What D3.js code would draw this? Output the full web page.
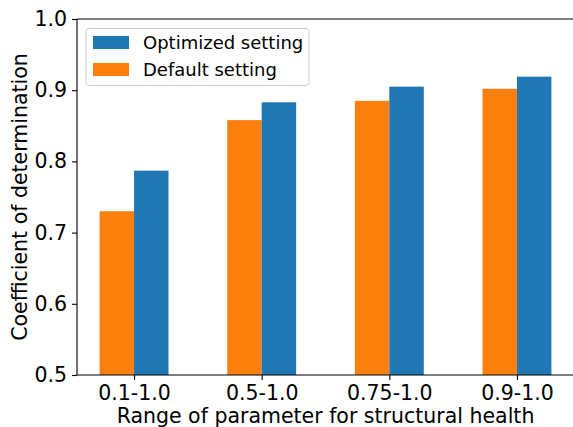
<!DOCTYPE html>
<html><head><meta charset="utf-8">
<script src="https://cdn.jsdelivr.net/npm/d3@7"></script>
<style>body{margin:0;background:#fff}svg{display:block;font-family:"DejaVu Sans",sans-serif}</style>
</head><body>
<svg id="c" width="573" height="427"></svg>
<script>
const categories = ["0.1-1.0","0.5-1.0","0.75-1.0","0.9-1.0"];
const defaultValues = [0.730,0.858,0.885,0.902];
const optimizedValues = [0.787,0.883,0.905,0.919];
const yTicks = [0.5,0.6,0.7,0.8,0.9,1.0];
const seriesNames = ["Optimized setting","Default setting"];
const colors = {opt:"#1f77b4", def:"#ff7f0e"};

(function(){
const svg = d3.select("#c");
const pl = 77, pr = 574, pt = 19, pb = 375;
const w = 0.27;
const x = d3.scaleLinear().domain([-0.447, 3.447]).range([pl, pr]);
const y = d3.scaleLinear().domain([0.5, 1.0]).range([pb, pt]);

const g = svg.append("g");
g.selectAll(".def").data(defaultValues).join("rect")
  .attr("x", (d,i)=>x(i-w)).attr("width", (d,i)=>x(i)-x(i-w))
  .attr("y", d=>y(d)).attr("height", d=>y(0.5)-y(d)).attr("fill", colors.def);
g.selectAll(".opt").data(optimizedValues).join("rect")
  .attr("x", (d,i)=>x(i)).attr("width", (d,i)=>x(i+w)-x(i))
  .attr("y", d=>y(d)).attr("height", d=>y(0.5)-y(d)).attr("fill", colors.opt);

const ya = svg.append("g").attr("transform",`translate(${pl},0)`)
  .call(d3.axisLeft(y).tickValues(yTicks).tickFormat(d3.format(".1f")).tickSize(5).tickPadding(5));
const xa = svg.append("g").attr("transform",`translate(0,${pb})`)
  .call(d3.axisBottom(x).tickValues(d3.range(categories.length)).tickFormat(i=>categories[i]).tickSize(5).tickPadding(5));
[ya,xa].forEach(a=>{
  a.selectAll("text").attr("font-size",20.5).attr("fill","#000").attr("font-family","DejaVu Sans");
  a.selectAll("line").attr("stroke","#000").attr("stroke-width",1.1);
  a.select(".domain").remove();
});
const sp = [[pl,pt,pl,pb],[pl,pb,pr,pb],[pl,pt,pr,pt],[pr,pt,pr,pb]];
sp.forEach(s=>svg.append("line").attr("x1",s[0]).attr("y1",s[1]).attr("x2",s[2]).attr("y2",s[3])
  .attr("stroke","#000").attr("stroke-width",1.1));

svg.append("text").attr("x",(pl+pr)/2).attr("y",423).attr("text-anchor","middle")
  .attr("font-size",20.5).text("Range of parameter for structural health");
svg.append("text").attr("transform",`translate(27,${(pt+pb)/2}) rotate(-90)`).attr("text-anchor","middle")
  .attr("font-size",20.5).text("Coefficient of determination");

const lg = svg.append("g");
lg.append("rect").attr("x",86).attr("y",28.5).attr("width",223).attr("height",57).attr("rx",3)
  .attr("fill","#fff").attr("fill-opacity",0.8).attr("stroke","#ccc").attr("stroke-width",1);
const lc = [colors.opt, colors.def];
seriesNames.forEach((s,i)=>{
  lg.append("rect").attr("x",93).attr("y",36+i*27).attr("width",36).attr("height",13).attr("fill",lc[i]);
  lg.append("text").attr("x",143).attr("y",49+i*27).attr("font-size",18).text(s);
});
})();
</script>
</body></html>
